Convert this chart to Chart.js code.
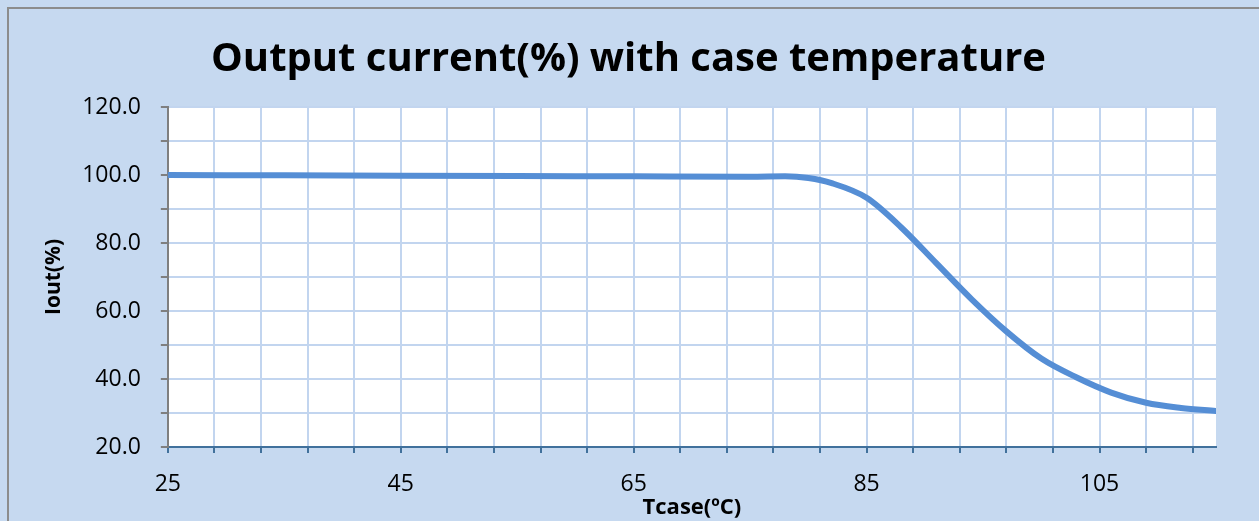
<!DOCTYPE html>
<html>
<head>
<meta charset="utf-8">
<script src="https://cdn.jsdelivr.net/npm/chart.js@4/dist/chart.umd.min.js"></script>
<style>
  html, body { margin: 0; padding: 0; background: #c6d9f0; overflow: hidden; }
  #frame { position: absolute; left: 7px; top: 7px; width: 1400px; height: 700px; border-left: 2px solid #8c8c8c; border-top: 2px solid #8c8c8c; }
  #wrap { position: absolute; left: 0; top: 0; width: 1259px; height: 521px; }
</style>
</head>
<body>
<div id="frame"></div>
<div id="wrap"><canvas id="tempChart"></canvas></div>
<script>
// case temperature (°C) and output current (%)
let tcase = [25, 35, 45, 55, 65, 75, 78, 80, 82, 85, 88, 91, 94, 97, 100, 103, 106, 109, 112, 115]
let iout = [100, 99.9, 99.8, 99.7, 99.6, 99.5, 99.6, 99.1, 97.6, 93.3, 84.5, 74, 63.5, 54, 46, 40.5, 36, 33, 31.5, 30.6]

let xTicks = [25, 29, 33, 37, 41, 45, 49, 53, 57, 61, 65, 69, 73, 77, 81, 85, 89, 93, 97, 101, 105, 109, 113]
let xLabels = [25, 45, 65, 85, 105]
let yLabels = [20, 40, 60, 80, 100, 120]

const plotBg = {
    id: 'plotBg',
    beforeDraw(chart) {
        const a = chart.chartArea
        const ctx = chart.ctx
        ctx.save()
        ctx.fillStyle = '#ffffff'
        ctx.fillRect(a.left, a.top, a.right - a.left, a.bottom - a.top)
        ctx.restore()
    }
}

let ctx = document.getElementById('tempChart').getContext('2d')
let tempChart = new Chart(ctx, {
    type: 'line',
    data: {
        datasets: [{
            label: 'Iout',
            data: tcase.map((t, i) => ({ x: t, y: iout[i] })),
            borderColor: '#558ed5',
            borderWidth: 6,
            pointRadius: 0,
            fill: false,
            cubicInterpolationMode: 'monotone',
            borderCapStyle: 'round'
        }]
    },
    options: {
        responsive: true,
        maintainAspectRatio: false,
        animation: false,
        layout: { padding: { left: 41, right: 43, top: 8, bottom: 0 } },
        scales: {
            x: {
                type: 'linear',
                min: 25,
                max: 115,
                afterBuildTicks: (scale) => { scale.ticks = xTicks.map(v => ({ value: v })) },
                grid: { color: '#c2d5ef', lineWidth: 2, tickColor: '#41719c', tickLength: 6 },
                border: { color: '#41719c', width: 2 },
                ticks: {
                    autoSkip: false,
                    maxRotation: 0,
                    color: '#000',
                    padding: 18,
                    font: { family: 'Open Sans', size: 23 },
                    callback: (v) => xLabels.includes(v) ? String(v) : ''
                },
                title: {
                    display: true,
                    text: 'Tcase(ºC)',
                    color: '#000',
                    padding: { top: -22, bottom: 0 },
                    font: { family: 'Open Sans', size: 22, weight: 'bold' }
                }
            },
            y: {
                min: 20,
                max: 120,
                ticks: {
                    stepSize: 10,
                    color: '#000',
                    padding: 20,
                    font: { family: 'Open Sans', size: 23 },
                    callback: (v) => yLabels.includes(v) ? v.toFixed(1) : ''
                },
                grid: { color: '#c2d5ef', lineWidth: 2, tickColor: '#7f7f7f', tickLength: 7 },
                border: { color: '#7f7f7f', width: 2 },
                title: {
                    display: true,
                    text: 'Iout(%)',
                    color: '#000',
                    padding: { top: 0, bottom: -4 },
                    font: { family: 'Open Sans', size: 21, weight: 'bold' }
                }
            }
        },
        plugins: {
            legend: { display: false },
            tooltip: { enabled: false },
            title: {
                display: true,
                text: 'Output current(%) with case temperature',
                color: '#000',
                padding: { top: 28, bottom: 23 },
                font: { family: 'Open Sans', size: 40, weight: 'bold' }
            }
        }
    },
    plugins: [plotBg]
})
</script>
</body>
</html>
